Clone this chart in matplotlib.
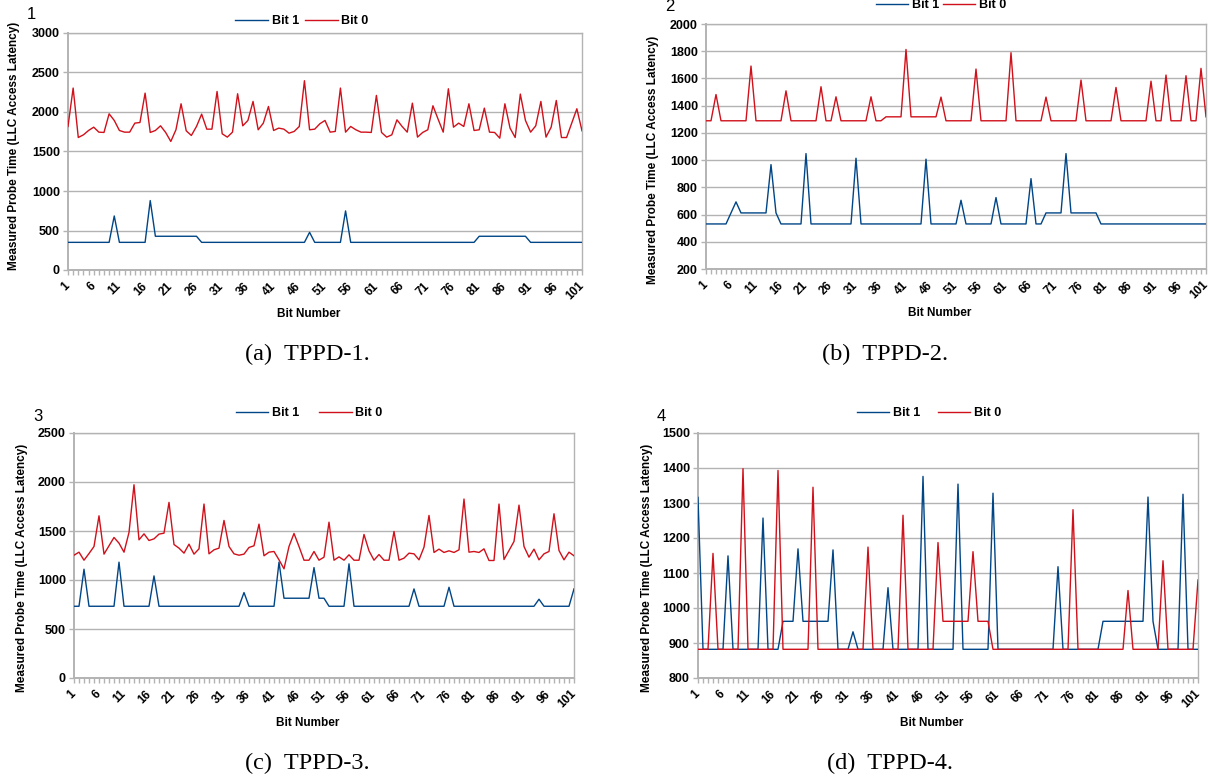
import numpy as np
import matplotlib
matplotlib.use("Agg")
import matplotlib.pyplot as plt

plt.rcParams['font.family'] = ['Liberation Sans', 'DejaVu Sans']

W, H = 1210, 778
BLUE = '#004586'
RED = '#d0101a'
GREY = '#b3b3b3'

bits = np.arange(1, 102)

# TPPD-1
tppd1_bit1 = [350, 350, 350, 350, 350, 350, 350, 350, 350, 684,
              350, 350, 350, 350, 350, 350, 879, 427, 427, 427,
              427, 427, 427, 427, 427, 427, 350, 350, 350, 350,
              350, 350, 350, 350, 350, 350, 350, 350, 350, 350,
              350, 350, 350, 350, 350, 350, 350, 477, 350, 350,
              350, 350, 350, 350, 748, 350, 350, 350, 350, 350,
              350, 350, 350, 350, 350, 350, 350, 350, 350, 350,
              350, 350, 350, 350, 350, 350, 350, 350, 350, 350,
              427, 427, 427, 427, 427, 427, 427, 427, 427, 427,
              350, 350, 350, 350, 350, 350, 350, 350, 350, 350,
              350]
tppd1_bit0 = [1817, 2303, 1677, 1711, 1766, 1808, 1745, 1741, 1977, 1893,
              1766, 1745, 1745, 1859, 1867, 2239, 1741, 1766, 1825, 1741,
              1627, 1775, 2104, 1762, 1703, 1817, 1973, 1783, 1783, 2260,
              1724, 1682, 1745, 2231, 1825, 1893, 2134, 1775, 1859, 2070,
              1766, 1796, 1783, 1732, 1754, 1817, 2396, 1775, 1783, 1851,
              1893, 1745, 1754, 2303, 1745, 1817, 1775, 1745, 1745, 1741,
              2210, 1741, 1682, 1711, 1901, 1817, 1745, 2112, 1682, 1741,
              1775, 2079, 1910, 1745, 2294, 1808, 1859, 1817, 2104, 1766,
              1775, 2049, 1745, 1741, 1669, 2104, 1796, 1677, 2227, 1893,
              1745, 1825, 2134, 1682, 1808, 2146, 1677, 1677, 1859, 2041,
              1762]

# TPPD-2
tppd2_bit1 = [531, 531, 531, 531, 531, 612, 693, 612, 612, 612,
              612, 612, 612, 967, 612, 531, 531, 531, 531, 531,
              1048, 531, 531, 531, 531, 531, 531, 531, 531, 531,
              1014, 531, 531, 531, 531, 531, 531, 531, 531, 531,
              531, 531, 531, 531, 1007, 531, 531, 531, 531, 531,
              531, 705, 531, 531, 531, 531, 531, 531, 725, 531,
              531, 531, 531, 531, 531, 864, 531, 531, 612, 612,
              612, 612, 1048, 612, 612, 612, 612, 612, 612, 531,
              531, 531, 531, 531, 531, 531, 531, 531, 531, 531,
              531, 531, 531, 531, 531, 531, 531, 531, 531, 531,
              531]
tppd2_bit0 = [1289, 1289, 1482, 1289, 1289, 1289, 1289, 1289, 1289, 1691,
              1289, 1289, 1289, 1289, 1289, 1289, 1509, 1289, 1289, 1289,
              1289, 1289, 1289, 1539, 1289, 1289, 1465, 1289, 1289, 1289,
              1289, 1289, 1289, 1465, 1289, 1289, 1318, 1318, 1318, 1318,
              1813, 1318, 1318, 1318, 1318, 1318, 1318, 1463, 1289, 1289,
              1289, 1289, 1289, 1289, 1669, 1289, 1289, 1289, 1289, 1289,
              1289, 1789, 1289, 1289, 1289, 1289, 1289, 1289, 1463, 1289,
              1289, 1289, 1289, 1289, 1289, 1588, 1289, 1289, 1289, 1289,
              1289, 1289, 1534, 1289, 1289, 1289, 1289, 1289, 1289, 1580,
              1289, 1289, 1625, 1289, 1289, 1289, 1620, 1289, 1289, 1674,
              1318]

# TPPD-3
tppd3_bit1 = [732, 732, 1110, 732, 732, 732, 732, 732, 732, 1182,
              732, 732, 732, 732, 732, 732, 1042, 732, 732, 732,
              732, 732, 732, 732, 732, 732, 732, 732, 732, 732,
              732, 732, 732, 732, 872, 732, 732, 732, 732, 732,
              732, 1182, 814, 814, 814, 814, 814, 814, 1127, 814,
              814, 732, 732, 732, 732, 1165, 732, 732, 732, 732,
              732, 732, 732, 732, 732, 732, 732, 732, 909, 732,
              732, 732, 732, 732, 732, 926, 732, 732, 732, 732,
              732, 732, 732, 732, 732, 732, 732, 732, 732, 732,
              732, 732, 732, 804, 732, 732, 732, 732, 732, 732,
              909]
tppd3_bit0 = [1253, 1284, 1202, 1270, 1342, 1655, 1264, 1349, 1434, 1376,
              1284, 1485, 1972, 1410, 1471, 1403, 1420, 1468, 1478, 1792,
              1362, 1325, 1274, 1366, 1264, 1318, 1775, 1267, 1308, 1325,
              1608, 1342, 1267, 1253, 1264, 1332, 1349, 1570, 1247, 1284,
              1291, 1206, 1114, 1342, 1475, 1342, 1202, 1202, 1291, 1202,
              1233, 1590, 1202, 1236, 1202, 1257, 1202, 1202, 1465, 1298,
              1202, 1260, 1202, 1202, 1495, 1202, 1223, 1274, 1267, 1206,
              1335, 1659, 1281, 1315, 1281, 1298, 1281, 1308, 1826, 1284,
              1291, 1281, 1318, 1199, 1199, 1775, 1209, 1301, 1393, 1764,
              1342, 1233, 1315, 1206, 1267, 1291, 1676, 1301, 1206, 1284,
              1247]

# TPPD-4
tppd4_bit1 = [1316, 882, 882, 882, 882, 882, 1149, 882, 882, 882,
              882, 882, 882, 1257, 882, 882, 882, 962, 962, 962,
              1169, 962, 962, 962, 962, 962, 962, 1166, 882, 882,
              882, 932, 882, 882, 882, 882, 882, 882, 1058, 882,
              882, 882, 882, 882, 882, 1376, 882, 882, 882, 882,
              882, 882, 1354, 882, 882, 882, 882, 882, 882, 1328,
              882, 882, 882, 882, 882, 882, 882, 882, 882, 882,
              882, 882, 1118, 882, 882, 882, 882, 882, 882, 882,
              882, 962, 962, 962, 962, 962, 962, 962, 962, 962,
              1317, 962, 882, 882, 882, 882, 882, 1325, 882, 882,
              882]
tppd4_bit0 = [882, 882, 882, 1156, 882, 882, 882, 882, 882, 1398,
              882, 882, 882, 882, 882, 882, 1393, 882, 882, 882,
              882, 882, 882, 1345, 882, 882, 882, 882, 882, 882,
              882, 882, 882, 882, 1174, 882, 882, 882, 882, 882,
              882, 1265, 882, 882, 882, 882, 882, 882, 1187, 962,
              962, 962, 962, 962, 962, 1161, 962, 962, 962, 882,
              882, 882, 882, 882, 882, 882, 882, 882, 882, 882,
              882, 882, 882, 882, 882, 1281, 882, 882, 882, 882,
              882, 882, 882, 882, 882, 882, 1050, 882, 882, 882,
              882, 882, 882, 1135, 882, 882, 882, 882, 882, 882,
              1080]

captions = ['(a)  TPPD-1.', '(b)  TPPD-2.', '(c)  TPPD-3.', '(d)  TPPD-4.']
y_ranges = [(0, 3000, 500), (200, 2000, 200), (0, 2500, 500), (800, 1500, 100)]

# pixel layout: axes box (l, t, r, b), panel number, legend centre, legend gap,
# y label (x, yc), x label centre, caption (xc, baseline)
layout = [
    dict(box=(68, 33, 582, 270), num=(27, 19), leg=(302, 21), gap=0.5,
         ylab=(14, 146), xlab=(309, 314), cap=(307, 360)),
    dict(box=(706, 24, 1206, 269), num=(665, 11), leg=(941, 5), gap=0.3,
         ylab=(653, 160), xlab=(940, 313), cap=(885, 360)),
    dict(box=(74, 433, 574, 678), num=(33, 421), leg=(309, 413), gap=1.6,
         ylab=(22, 568), xlab=(308, 723), cap=(307, 769)),
    dict(box=(698, 433, 1198, 678), num=(657, 421), leg=(929, 413), gap=1.4,
         ylab=(647, 568), xlab=(932, 723), cap=(890, 769)),
]
series = [(tppd1_bit1, tppd1_bit0), (tppd2_bit1, tppd2_bit0),
          (tppd3_bit1, tppd3_bit0), (tppd4_bit1, tppd4_bit0)]


def fx(x):
    return x / W


def fy(y):
    return 1 - y / H


fig = plt.figure(figsize=(W / 100, H / 100), dpi=100)

for i, (lay, (b1, b0), (y0, y1, ys), cap) in enumerate(zip(layout, series, y_ranges, captions)):
    l, t, r, b = lay['box']
    ax = fig.add_axes([fx(l), fy(b), (r - l) / W, (b - t) / H])
    ax.plot(bits, b1, color=BLUE, lw=1.0, label='Bit 1', zorder=3)
    ax.plot(bits, b0, color=RED, lw=1.0, label='Bit 0', zorder=3)
    ax.set_xlim(1, 101)
    ax.set_ylim(y0, y1)
    ax.set_yticks(np.arange(y0, y1 + 1, ys))
    ax.set_xticks(bits[::5])
    ax.set_xticks(bits, minor=True)
    ax.grid(axis='y', color=GREY, lw=1.0)
    ax.set_axisbelow(True)
    for s in ax.spines.values():
        s.set_color(GREY)
        s.set_linewidth(1.0)
    ax.spines['left'].set_linewidth(1.4)
    ax.spines['bottom'].set_linewidth(1.4)
    ax.tick_params(which='both', color=GREY, length=3.8, width=1.0)
    ax.tick_params(axis='y', labelsize=9, pad=2)
    ax.tick_params(axis='x', labelsize=8.5, pad=6.5)
    for lab in ax.get_yticklabels():
        lab.set_fontweight('bold')
    for lab in ax.get_xticklabels():
        lab.set_fontweight('bold')
        lab.set_rotation(45)
        lab.set_ha('right')
        lab.set_va('center')
        lab.set_rotation_mode('anchor')

    ax.legend(loc='center', bbox_to_anchor=(fx(lay['leg'][0]), fy(lay['leg'][1])),
              bbox_transform=fig.transFigure, ncol=2, frameon=False,
              prop={'weight': 'bold', 'size': 9}, handlelength=2.6,
              handletextpad=0.3, columnspacing=lay['gap'], borderpad=0)

    fig.text(fx(lay['num'][0]), fy(lay['num'][1]), str(i + 1), fontsize=12,
             ha='left', va='baseline')
    fig.text(fx(lay['ylab'][0]), fy(lay['ylab'][1]),
             'Measured Probe Time (LLC Access Latency)', rotation=90,
             fontsize=8.5, fontweight='bold', ha='center', va='center')
    fig.text(fx(lay['xlab'][0]), fy(lay['xlab'][1]), 'Bit Number',
             fontsize=8.5, fontweight='bold', ha='center', va='center')
    fig.text(fx(lay['cap'][0]), fy(lay['cap'][1]), cap, family='Liberation Serif',
             fontsize=17.5, ha='center', va='baseline')

fig.savefig('out.png', dpi=100)
